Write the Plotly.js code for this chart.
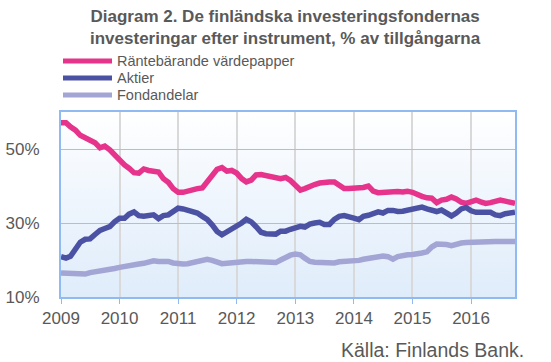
<!DOCTYPE html>
<html>
<head>
<meta charset="utf-8">
<script src="https://cdn.plot.ly/plotly-3.0.1.min.js"></script>
<style>
  html, body { margin: 0; padding: 0; background: #ffffff; }
  #wrap { position: relative; width: 551px; height: 362px; }
  #bg { position: absolute; left: 61px; top: 112px; width: 454px; height: 185px;
        background: linear-gradient(to bottom, #ffffff 0%, #eef5fd 50%, #dfecfa 100%); }
  #chart { position: absolute; left: 0; top: 0; width: 551px; height: 362px; }
</style>
</head>
<body>
<div id="wrap"><div id="bg"></div><div id="chart"></div></div>
<script>
// Series names
const seriesNames = ['Räntebärande värdepapper', 'Aktier', 'Fondandelar'];
const seriesColors = ['#e6338b', '#4c52a3', '#a3a5d4'];

// Monthly observations, Jan 2009 onward (percent of assets)
const startYear = 2009;
const rantebarande = [
  57.1, 57.1, 56.0, 55.1, 53.7, 53.0, 52.5, 51.7, 50.3, 50.8, 49.8, 48.3,
  46.7, 45.7, 44.8, 43.6, 43.5, 44.6, 44.2, 43.9, 43.8, 42.0, 41.0, 39.3,
  38.3, 38.3, 38.7, 39.0, 39.3, 39.5, 41.0, 42.8, 44.5, 45.0, 44.0, 44.2,
  43.5, 42.0, 41.1, 41.6, 43.0, 43.1, 42.8, 42.4, 42.0, 42.0, 42.3, 41.5,
  40.2, 38.9, 39.3, 40.0, 40.4, 40.8, 41.1, 41.1, 41.1, 40.3, 39.3, 39.3,
  39.3, 39.5, 39.6, 40.0, 38.6, 38.2, 38.3, 38.4, 38.7, 38.5, 38.4, 38.6,
  38.3, 37.6, 37.2, 36.8, 36.7, 35.5, 36.2, 36.4, 37.0, 36.5, 35.6, 35.3,
  35.7, 36.2, 35.7, 35.3, 35.5, 35.9, 36.2, 35.9, 35.5, 35.3
];
const aktier = [
  20.9, 20.5, 21.0, 23.0, 24.8, 25.6, 25.7, 26.9, 28.0, 28.5, 29.0, 30.3,
  31.3, 31.3, 32.4, 33.0, 32.0, 31.8, 32.0, 32.2, 31.2, 32.0, 32.2, 33.0,
  34.0, 33.8, 33.5, 32.9, 32.7, 31.8, 31.0, 29.5, 27.7, 26.8, 27.6, 28.3,
  29.0, 30.0, 31.0, 30.3, 29.0, 27.5, 27.1, 27.0, 27.0, 27.8, 27.8, 28.3,
  28.8, 29.1, 28.9, 29.7, 30.0, 30.2, 29.6, 29.6, 31.0, 31.8, 32.0, 31.8,
  31.3, 30.9, 31.8, 32.1, 32.7, 33.0, 32.7, 33.4, 33.4, 33.1, 33.2, 33.4,
  33.6, 34.0, 34.3, 33.8, 33.4, 33.1, 33.5, 32.5, 31.9, 32.7, 33.8, 34.2,
  33.3, 32.9, 32.9, 32.7, 32.9, 32.2, 32.0, 32.5, 32.7, 32.9
];
const fondandelar = [
  16.5, 16.5, 16.4, 16.4, 16.2, 16.2, 16.6, 16.8, 16.9, 17.0, 17.3, 17.7,
  18.0, 18.3, 18.6, 18.9, 18.9, 19.1, 19.6, 19.8, 19.6, 19.6, 19.6, 19.2,
  18.9, 18.9, 19.0, 19.3, 19.5, 19.8, 20.2, 19.9, 19.3, 19.0, 19.1, 19.3,
  19.5, 19.6, 19.6, 19.6, 19.5, 19.3, 19.3, 19.3, 19.3, 20.0, 20.8, 21.3,
  21.6, 21.4, 20.5, 19.6, 19.4, 19.3, 19.2, 19.1, 19.2, 19.5, 19.6, 19.5,
  19.6, 19.9, 20.2, 20.5, 20.8, 21.1, 21.1, 20.9, 20.2, 20.9, 21.3, 21.4,
  21.5, 21.6, 21.9, 22.2, 23.5, 24.3, 24.4, 24.2, 23.9, 24.3, 24.6, 24.7,
  24.8, 24.7, 24.7, 24.8, 24.9, 25.0, 25.0, 25.0, 25.0, 25.0
];
const yearTicks = ['2009', '2010', '2011', '2012', '2013', '2014', '2015', '2016'];
const yTicks = [10, 30, 50];
const titleText = '<b>Diagram 2. De finländska investeringsfondernas<br>investeringar efter instrument, % av tillgångarna</b>';
const sourceText = 'Källa: Finlands Bank.';

function monthDates(n) {
  const out = [];
  for (let i = 0; i < n; i++) {
    const y = startYear + Math.floor(i / 12);
    const m = (i % 12) + 1;
    out.push(y + '-' + (m < 10 ? '0' + m : m) + '-01');
  }
  return out;
}
const dates = monthDates(rantebarande.length);
const allSeries = [rantebarande, aktier, fondandelar];

const traces = allSeries.map((vals, i) => ({
  x: dates, y: vals, type: 'scatter', mode: 'lines',
  name: seriesNames[i],
  line: { color: seriesColors[i], width: 5.5 },
  showlegend: false, hoverinfo: 'skip'
}));

const textColor = '#595959';
const font = 'Liberation Sans, Arial, sans-serif';

// plot area in pixels: x 61..515, y 112..297
const L = 61, R = 515, T = 112, B = 297;
const px = x => (x - L) / (R - L);
const py = y => (B - y) / (B - T);

const shapes = [];
const annotations = [];
seriesNames.forEach((nm, i) => {
  const yy = 61 + i * 17;
  shapes.push({ type: 'line', xref: 'paper', yref: 'paper',
    x0: px(63), x1: px(112), y0: py(yy), y1: py(yy),
    line: { color: seriesColors[i], width: 5 } });
  annotations.push({ xref: 'paper', yref: 'paper', x: px(115), y: py(yy),
    xanchor: 'left', yanchor: 'middle', showarrow: false, text: nm,
    font: { family: font, size: 14.5, color: textColor } });
});
annotations.push({ xref: 'paper', yref: 'paper', x: px(285), y: py(5),
  xanchor: 'center', yanchor: 'top', showarrow: false, text: titleText,
  font: { family: font, size: 17, color: textColor } });
annotations.push({ xref: 'paper', yref: 'paper', x: px(526), y: py(350),
  xanchor: 'right', yanchor: 'middle', showarrow: false, text: sourceText,
  font: { family: font, size: 19.5, color: textColor } });

const layout = {
  width: 551, height: 362,
  margin: { l: L, r: 551 - R, t: T, b: 362 - B, pad: 0 },
  paper_bgcolor: 'rgba(0,0,0,0)', plot_bgcolor: 'rgba(0,0,0,0)',
  font: { family: font, color: textColor },
  xaxis: {
    type: 'date', range: [dates[0], '2016-10-01'],
    tickvals: yearTicks.map(y => y + '-01-01'), ticktext: yearTicks,
    showgrid: true, gridcolor: '#d9d9d9', gridwidth: 2,
    showline: true, mirror: true, linecolor: '#8fbaf2', linewidth: 2,
    ticks: 'outside', ticklen: 5, tickcolor: '#8fbaf2', tickwidth: 1,
    tickfont: { family: font, size: 17, color: textColor },
    zeroline: false, fixedrange: true
  },
  yaxis: {
    range: [10, 60], tickvals: yTicks, ticktext: yTicks.map(v => v + '%'),
    showgrid: true, gridcolor: '#9cc3f3', gridwidth: 1,
    showline: true, mirror: true, linecolor: '#8fbaf2', linewidth: 2,
    ticks: 'outside', ticklen: 16, tickcolor: 'rgba(0,0,0,0)',
    tickfont: { family: font, size: 17, color: textColor },
    zeroline: false, fixedrange: true
  },
  shapes: shapes,
  annotations: annotations
};

Plotly.newPlot('chart', traces, layout, { displayModeBar: false, staticPlot: true });
</script>
</body>
</html>
